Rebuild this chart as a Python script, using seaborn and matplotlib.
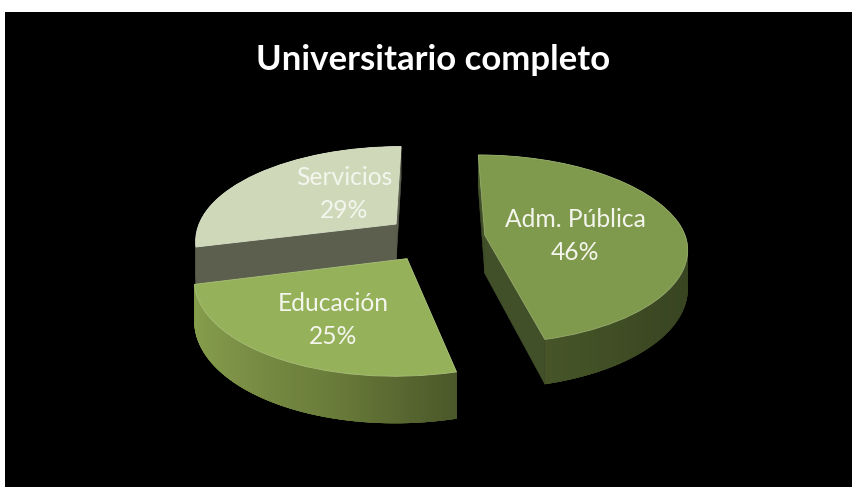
import numpy as np
import matplotlib
matplotlib.use("Agg")
import matplotlib.pyplot as plt
from matplotlib.collections import PolyCollection
from matplotlib.transforms import Transform
import seaborn as sns

# Data
categories = ["Adm. Pública", "Educación", "Servicios"]
shares = [46, 25, 29]
title = "Universitario completo"

# Styles
top_colors = ["#7f9a4c", "#95b15a", "#cfd9ba"]
radial_colors = ["#42502a", "#5c6b38", "#5c5f4e"]
outer_ramps = [
    ["#364220", "#3b4823", "#485729"],
    ["#4a5729", "#6a7c3a", "#7d9247", "#87a04c"],
    ["#5c5f4e", "#5c5f4e"],
]
label_pos = [(575, 236), (333, 320), (344, 194)]
draw_order = [2, 0, 1]

# Camera model of the tilted pie, in pixels of the picture
CX, CY, A, B, K, DEPTH = 435, 238, 201.5, 93, 0.15, 38.5
SKEW = 7
EXPLODE = 0.25


def project(xy):
    xy = np.atleast_2d(xy)
    s = 1 / (1 + K * xy[:, 1])
    return np.column_stack([
        CX + A * xy[:, 0] * s + SKEW * np.minimum(xy[:, 1], 0),
        CY - B * xy[:, 1] * s,
    ])


def sink(xy):
    """Projected outline of the underside of the pie."""
    xy = np.atleast_2d(xy)
    p = project(xy)
    p[:, 1] += DEPTH / (1 + K * xy[:, 1])
    return p


class Perspective(Transform):
    input_dims = output_dims = 2

    def transform_non_affine(self, values):
        return project(values)


sns.set_theme(style="white")
plt.rcParams["font.family"] = ["Lato", "DejaVu Sans"]

fig = plt.figure(figsize=(8.52, 4.87), dpi=100, facecolor="white")
ax = fig.add_axes([5 / 852, 0, 847 / 852, 475 / 487])

wedges, _ = ax.pie(
    shares,
    startangle=90,
    counterclock=False,
    explode=[EXPLODE] * len(shares),
    colors=top_colors,
)

ax.set_aspect("auto")
ax.set_xlim(5, 852)
ax.set_ylim(487, 12)
ax.set_frame_on(True)
ax.set_facecolor("black")
ax.set_xticks([])
ax.set_yticks([])
for spine in ax.spines.values():
    spine.set_visible(False)

persp = Perspective() + ax.transData

for level, i in enumerate(draw_order):
    w = wedges[i]
    base = 10 + level * 10
    center = np.array(w.center)
    angles = np.radians(np.linspace(w.theta1, w.theta2, 181))
    arc = center + w.r * np.column_stack([np.cos(angles), np.sin(angles)])

    # flat cut faces
    for end in (arc[0], arc[-1]):
        line = np.vstack([center, end])
        top, bot = project(line), sink(line)
        ax.add_patch(plt.Polygon(np.vstack([top, bot[::-1]]), closed=True,
                                 facecolor=radial_colors[i],
                                 edgecolor=radial_colors[i], lw=0.4,
                                 zorder=base))

    # curved outer skin, shaded from right to left; strips overlap to hide seams
    top, bot = project(arc), sink(arc)
    order = np.argsort(-arc[:, 0])
    ramp = sns.blend_palette(outer_ramps[i], n_colors=len(arc))
    quads, cols = [], []
    for rank, j in enumerate(order):
        lo, hi = max(j - 2, 0), min(j + 2, len(arc) - 1)
        quads.append(np.array([top[lo], top[hi], bot[hi], bot[lo]]))
        cols.append(ramp[rank])
    ax.add_collection(PolyCollection(quads, facecolors=cols, edgecolors="none",
                                     zorder=base + 1))

    # top face: the pie's own wedge seen through the camera
    w.set_transform(persp)
    w.set_zorder(base + 2)
    w.set_edgecolor(sns.blend_palette([top_colors[i], "white"], 6)[1])
    w.set_linewidth(0.6)
    w.set_clip_on(False)

for name, value, (x, y) in zip(categories, shares, label_pos):
    ax.text(x, y, f"{name}\n{value}%", ha="center", va="center",
            color="#f4f6ee", fontsize=17.7, linespacing=1.5, zorder=100)

ax.text(433, 60, title, ha="center", va="center", color="white",
        fontsize=25, fontweight="bold", zorder=100)

fig.savefig("out.png", dpi=100, facecolor="white")
